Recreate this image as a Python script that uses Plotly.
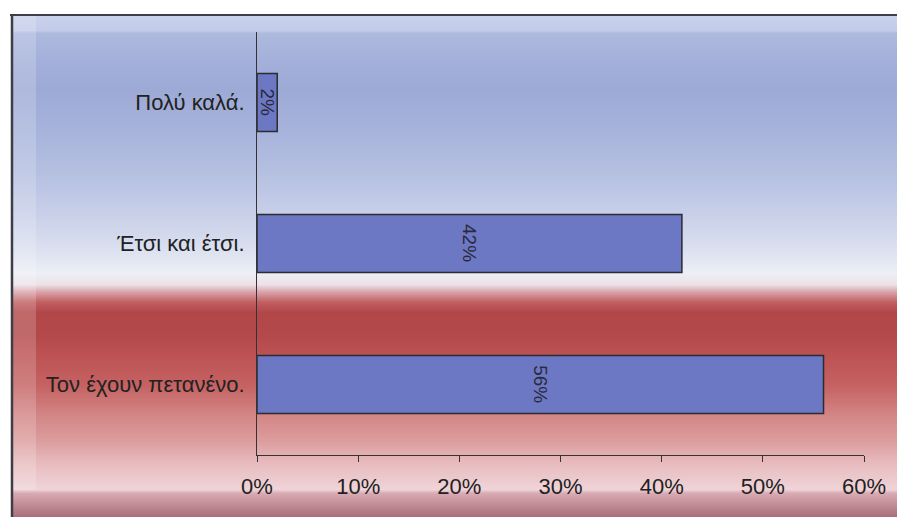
import base64
import struct
import zlib

import plotly.graph_objects as go

# ---------------- data ----------------
categories = ["Πολύ καλά.", "Έτσι και έτσι.", "Τον έχουν πετανένο."]
values = [2, 42, 56]
tick_values = [0, 10, 20, 30, 40, 50, 60]
tick_labels = ["0%", "10%", "20%", "30%", "40%", "50%", "60%"]

# ---------------- geometry (pixels) ----------------
W, H = 897, 517
L, R, T, B = 257, 33, 32, 62
PW, PH = W - L - R, H - T - B


def px_to_paper_x(px):
    return (px - L) / PW


def px_to_paper_y(py):
    return (H - B - py) / PH


# ---------------- background gradient ----------------
stops = [
    (16, "#C9D1EC"), (30, "#C2CBE9"), (33, "#AEB9DE"), (60, "#A4B0DA"),
    (90, "#9DAAD6"), (130, "#A7B3DB"), (170, "#B4BFE0"), (210, "#C6CEE8"),
    (250, "#DCE1F0"), (272, "#EDEFF6"), (284, "#ECE2E8"), (292, "#D8A0A6"),
    (302, "#C05E60"), (312, "#B2474A"), (335, "#B3494B"), (355, "#BD5254"),
    (385, "#C56262"), (415, "#D38686"), (440, "#DC9C9D"), (462, "#E7BABD"),
    (489, "#EFD4D8"), (493, "#D8AAB2"), (505, "#C08A94"), (517, "#A86C7A"),
]


def hex2rgb(h):
    h = h.lstrip("#")
    return [int(h[i:i + 2], 16) for i in (0, 2, 4)]


def color_at(py):
    for (y0, c0), (y1, c1) in zip(stops, stops[1:]):
        if y0 <= py <= y1:
            t = 0 if y1 == y0 else (py - y0) / (y1 - y0)
            a, b = hex2rgb(c0), hex2rgb(c1)
            return [round(a[i] + (b[i] - a[i]) * t) for i in range(3)]
    return hex2rgb(stops[-1][1])


def make_png(rows, width=4):
    raw = b"".join(b"\x00" + bytes(rgb) * width for rgb in rows)

    def chunk(tag, data):
        c = struct.pack(">I", len(data)) + tag + data
        return c + struct.pack(">I", zlib.crc32(tag + data) & 0xFFFFFFFF)

    png = b"\x89PNG\r\n\x1a\n"
    png += chunk(b"IHDR", struct.pack(">IIBBBBB", width, len(rows), 8, 2, 0, 0, 0))
    png += chunk(b"IDAT", zlib.compress(raw, 9))
    png += chunk(b"IEND", b"")
    return "data:image/png;base64," + base64.b64encode(png).decode()


y_top, y_bot = 16, 517
rows = [color_at(py) for py in range(y_top, y_bot)]
bg_uri = make_png(rows)

# ---------------- figure ----------------
FONT = "Liberation Sans, Arial, sans-serif"

fig = go.Figure(
    go.Bar(
        x=values,
        y=categories,
        orientation="h",
        width=0.41,
        marker=dict(color="#6D78C4", line=dict(color="#2B2B30", width=1.5)),
        hoverinfo="skip",
    )
)

for cat, v in zip(categories, values):
    fig.add_annotation(
        x=v / 2, y=cat, xref="x", yref="y",
        text=f"{v}%", showarrow=False, textangle=90,
        font=dict(family=FONT, size=19, color="#2A2A3A"),
    )

fig.add_layout_image(
    source=bg_uri, xref="paper", yref="paper",
    x=px_to_paper_x(12), y=px_to_paper_y(y_top),
    sizex=(W - 12) / PW, sizey=(y_bot - y_top) / PH,
    xanchor="left", yanchor="top", sizing="stretch", layer="below",
)

# lighter inner frame strip on the left (scan panel edge)
fig.add_shape(type="rect", xref="paper", yref="paper", layer="below",
              x0=px_to_paper_x(13), x1=px_to_paper_x(36), y0=px_to_paper_y(16), y1=px_to_paper_y(490),
              line=dict(width=0), fillcolor="rgba(255,255,255,0.18)")

# scan frame lines
fig.add_shape(type="line", xref="paper", yref="paper",
              x0=px_to_paper_x(10), x1=px_to_paper_x(W), y0=px_to_paper_y(15), y1=px_to_paper_y(15),
              line=dict(color="#3E3E48", width=2))
fig.add_shape(type="line", xref="paper", yref="paper",
              x0=px_to_paper_x(12), x1=px_to_paper_x(12), y0=px_to_paper_y(14), y1=px_to_paper_y(H),
              line=dict(color="#3E3E48", width=2.5))

fig.update_layout(
    width=W, height=H,
    margin=dict(l=L, r=R, t=T, b=B, pad=0),
    paper_bgcolor="white",
    plot_bgcolor="rgba(0,0,0,0)",
    showlegend=False,
    font=dict(family=FONT, size=22, color="#222222"),
    xaxis=dict(
        range=[0, 60], tickvals=tick_values, ticktext=tick_labels,
        showgrid=False, zeroline=False, showline=True, linecolor="#333333", linewidth=1,
        ticks="outside", ticklen=6, tickcolor="#333333", tickwidth=1,
        ticklabelstandoff=6, tickfont=dict(family=FONT, size=22, color="#222222"),
        fixedrange=True,
    ),
    yaxis=dict(
        categoryorder="array", categoryarray=categories, autorange="reversed",
        showgrid=False, zeroline=False, showline=True, linecolor="#333333", linewidth=1,
        ticks="", ticklabelstandoff=7, tickfont=dict(family=FONT, size=22, color="#222222"),
        fixedrange=True,
    ),
)

fig.write_html("out.html", config={"displayModeBar": False},
               post_script="document.body.style.margin='0px';")
